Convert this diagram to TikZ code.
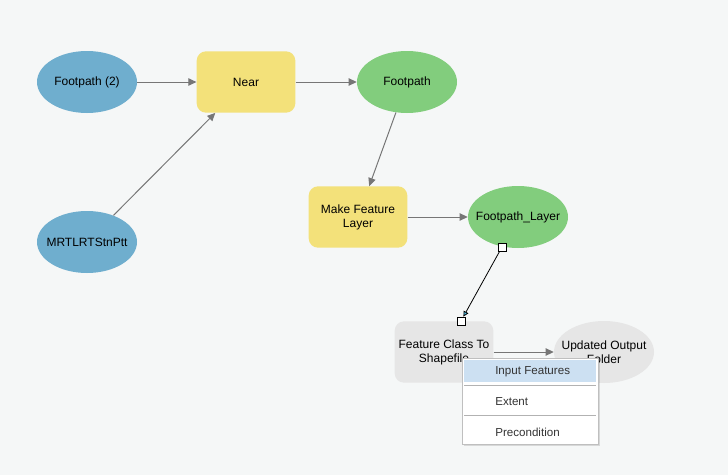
\documentclass[tikz,border=0pt]{standalone}
\usepackage{fontspec}
\setmainfont{Liberation Sans}
\usepackage{tikz}
\usetikzlibrary{arrows.meta,shapes.geometric,positioning}
\usepackage{xcolor}

\definecolor{bgcol}{RGB}{245,247,247}
\definecolor{datablue}{RGB}{111,174,206}
\definecolor{datagreen}{RGB}{130,205,125}
\definecolor{toolyellow}{RGB}{243,225,122}
\definecolor{idlegray}{RGB}{230,230,230}
\definecolor{linkgray}{RGB}{118,118,118}
\definecolor{menuhl}{RGB}{204,224,242}
\definecolor{tipcyan}{RGB}{80,190,230}

\tikzset{
  txt/.style={font=\fontsize{9}{10.5}\selectfont, text=black, align=center},
  dataval/.style={ellipse, minimum width=75pt, minimum height=46.5pt, inner sep=0pt},
  tool/.style={txt, rectangle, rounded corners=7pt, minimum width=74pt, minimum height=46pt, inner sep=0pt},
  link/.style={linkgray, line width=0.75pt, -{Triangle[length=6pt,width=5.5pt]}},
  handle/.style={draw=black, fill=white, line width=0.6pt, minimum size=6pt, inner sep=0pt},
  menuitem/.style={font=\fontsize{8.7}{10}\selectfont, text={black!80}, anchor=west, inner sep=0pt}
}

\begin{document}
\begin{tikzpicture}[x=0.75pt, y=-0.75pt]
% sfondo
\fill[bgcol] (0,0) rectangle (728,475);
\useasboundingbox (0,0) rectangle (728,475);
% nodi del modello
\node[dataval, fill=datablue, label={[txt]center:Footpath (2)}]      (fp2)  at (87,82)   {};
\node[tool, fill=toolyellow]                                          (near) at (246,82)  {Near};
\node[dataval, fill=datagreen, label={[txt]center:Footpath}]          (fp)   at (407,82)  {};
\node[dataval, fill=datablue, label={[txt]center:MRTLRTStnPtt}]       (mrt)  at (87,242)  {};
\node[tool, fill=toolyellow]                                          (mfl)  at (358,217) {Make Feature\\Layer};
\node[dataval, fill=datagreen, label={[txt]center:Footpath\_Layer}]   (fpl)  at (518,217) {};
\node[tool, fill=idlegray]                                            (fcts) at (444,352) {Feature Class To\\Shapefile};
\node[dataval, fill=idlegray, label={[txt]center:Updated Output\\Folder}] (uof) at (604,352) {};
% collegamenti
\draw[link] (fp2) -- (near);
\draw[link] (mrt) -- (near);
\draw[link] (near) -- (fp);
\draw[link] (fp) -- (mfl);
\draw[link] (mfl) -- (fpl);
\draw[link] (fcts) -- (uof);
% collegamento in corso
\node[handle] (hsrc) at (502,247) {};
\node[handle] (hdst) at (461,321) {};
\draw[black, line width=0.6pt, -{Triangle[length=4pt,width=4pt,fill=tipcyan]}] (hsrc) -- (hdst);
\node[handle] at (hdst) {};
% menu contestuale
\fill[black, opacity=0.12] (464,360) rectangle (600,446);
\node[draw=black!25, fill=white, line width=0.6pt, minimum width=102pt, minimum height=64.5pt, inner sep=0pt] (menu) at (530,401) {};
\fill[menuhl] (464,360) rectangle (596,382);
\draw[black!30, line width=0.6pt] (464,385.5) -- (596,385.5);
\draw[black!30, line width=0.6pt] (464,415.5) -- (596,415.5);
\node[menuitem] (inpf) at (495,372) {Input Features};
\node[menuitem] (ext)  at (495,402) {Extent};
\node[menuitem] (prec) at (495,432) {Precondition};
\end{tikzpicture}
\end{document}
